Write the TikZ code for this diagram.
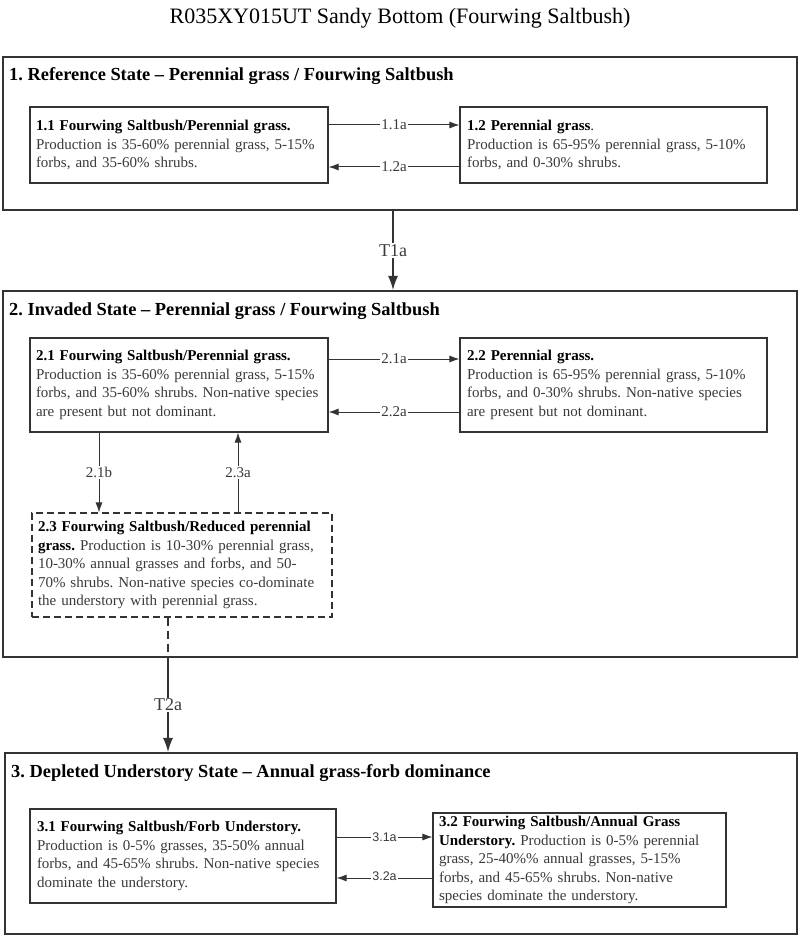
\documentclass[tikz,border=0pt]{standalone}
\usepackage{fontspec}
\setmainfont{Liberation Serif}
\newfontfamily\labsans{Liberation Sans}
\usetikzlibrary{arrows.meta}
\definecolor{bord}{HTML}{333333}
\definecolor{txt}{HTML}{3A3A3A}
\frenchspacing
\begin{document}
\begin{tikzpicture}[x=1pt,y=-1pt,
  statebox/.style={draw=bord, line width=2.2pt, minimum width=#1, inner sep=0pt},
  phase/.style={draw=bord, line width=1.1pt, fill=white, align=left, inner sep=0pt,
    font=\fontsize{15}{18.5}\selectfont, text=txt},
  statetitle/.style={anchor=base west, inner sep=0pt, font=\fontsize{18.4}{21}\selectfont\bfseries, text=black},
  arr/.style={draw=bord, line width=1pt, -{Latex[length=10pt,width=7pt]}},
  bigarr/.style={draw=bord, line width=1.2pt, -{Latex[length=14pt,width=10pt]}},
  lab/.style={fill=white, inner sep=1pt, text=txt, font=\fontsize{15}{17}\selectfont},
  sanslab/.style={fill=white, inner sep=1pt, text=txt, font=\labsans\fontsize{12.5}{14}\selectfont},
  biglab/.style={fill=white, inner sep=1pt, text=txt, font=\fontsize{18}{20}\selectfont},
  ]
\useasboundingbox (0,0) rectangle (800,936);
\fill[white] (0,0) rectangle (800,936);

\node[text=black, font=\fontsize{22}{25}\selectfont] (title) at (400,18) {R035XY015UT Sandy Bottom (Fourwing Saltbush)};

% state boxes
\node[statebox=794pt, minimum height=153pt] (s1) at (400,133.5) {};
\node[statebox=794pt, minimum height=366pt] (s2) at (400,474) {};
\node[statebox=792pt, minimum height=181pt] (s3) at (401,843.5) {};

\node[statetitle] (t1) at (9,81) {1. Reference State -- Perennial grass / Fourwing Saltbush};
\node[statetitle] (t2) at (9,315) {2. Invaded State -- Perennial grass / Fourwing Saltbush};
\node[statetitle] (t3) at (11,777) {3. Depleted Understory State -- Annual grass-forb dominance};

% phases
\node[phase, minimum width=298pt, minimum height=76pt, text width=286pt] (p11) at (179,145)
 {\textbf{\color{black}1.1 Fourwing Saltbush/Perennial grass.}\\Production is 35-60\% perennial grass, 5-15\%\\forbs, and 35-60\% shrubs.};
\node[phase, minimum width=307pt, minimum height=76pt, text width=293pt] (p12) at (613.5,145)
 {\textbf{\color{black}1.2 Perennial grass}.\\Production is 65-95\% perennial grass, 5-10\%\\forbs, and 0-30\% shrubs.};
\node[phase, minimum width=298pt, minimum height=94pt, text width=286pt] (p21) at (179,385)
 {\textbf{\color{black}2.1 Fourwing Saltbush/Perennial grass.}\\Production is 35-60\% perennial grass, 5-15\%\\forbs, and 35-60\% shrubs. Non-native species\\are present but not dominant.};
\node[phase, minimum width=307pt, minimum height=94pt, text width=293pt] (p22) at (613.5,385)
 {\textbf{\color{black}2.2 Perennial grass.}\\Production is 65-95\% perennial grass, 5-10\%\\forbs, and 0-30\% shrubs. Non-native species\\are present but not dominant.};
\node[phase, dash pattern=on 7pt off 4pt, minimum width=300pt, minimum height=104pt, text width=288pt] (p23) at (182,565)
 {\textbf{\color{black}2.3 Fourwing Saltbush/Reduced perennial}\\\textbf{\color{black}grass.} Production is 10-30\% perennial grass,\\10-30\% annual grasses and forbs, and 50-\\70\% shrubs. Non-native species co-dominate\\the understory with perennial grass.};
\node[phase, minimum width=306pt, minimum height=94pt, text width=292pt] (p31) at (183,856)
 {\textbf{\color{black}3.1 Fourwing Saltbush/Forb Understory.}\\Production is 0-5\% grasses, 35-50\% annual\\forbs, and 45-65\% shrubs. Non-native species\\dominate the understory.};
\node[phase, minimum width=293pt, minimum height=94pt, text width=281pt] (p32) at (579.5,860)
 {\textbf{\color{black}3.2 Fourwing Saltbush/Annual Grass}\\\textbf{\color{black}Understory.} Production is 0-5\% perennial\\grass, 25-40\%\% annual grasses, 5-15\%\\forbs, and 45-65\% shrubs. Non-native\\species dominate the understory.};

% state 1 connectors
\draw[arr] ([yshift=20pt]p11.east) -- node[lab] {1.1a} ([yshift=20pt]p11.east -| p12.west);
\draw[arr] ([yshift=-22pt]p12.west) -- node[lab] {1.2a} ([yshift=-22pt]p12.west -| p11.east);
% state 2 connectors
\draw[arr] ([yshift=26pt]p21.east) -- node[lab] {2.1a} ([yshift=26pt]p21.east -| p22.west);
\draw[arr] ([yshift=-27pt]p22.west) -- node[lab] {2.2a} ([yshift=-27pt]p22.west -| p21.east);
\draw[arr] ([xshift=-80pt]p21.south) -- node[lab] {2.1b} ([xshift=-80pt]p21.south |- p23.north);
\draw[arr] ([xshift=56pt]p23.north) -- node[lab] {2.3a} ([xshift=56pt]p23.north |- p21.south);
% state 3 connectors
\draw[arr] ([yshift=19pt]p31.east) -- node[sanslab] {3.1a} ([yshift=19pt]p31.east -| p32.west);
\draw[arr] ([yshift=-18pt]p32.west) -- node[sanslab, yshift=2pt] {3.2a} ([yshift=-18pt]p32.west -| p31.east);
% transitions
\draw[bigarr] ([xshift=-7pt]s1.south) -- node[biglab] {T1a} ([xshift=-7pt]s1.south |- s2.north);
\coordinate (t2start) at ([xshift=-14pt]p23.south |- s2.south);
\draw[draw=bord, line width=1.2pt, dash pattern=on 8pt off 5pt] ([xshift=-14pt]p23.south) -- (t2start);
\draw[bigarr] (t2start) -- node[biglab] {T2a} (t2start |- s3.north);
\end{tikzpicture}
\end{document}
